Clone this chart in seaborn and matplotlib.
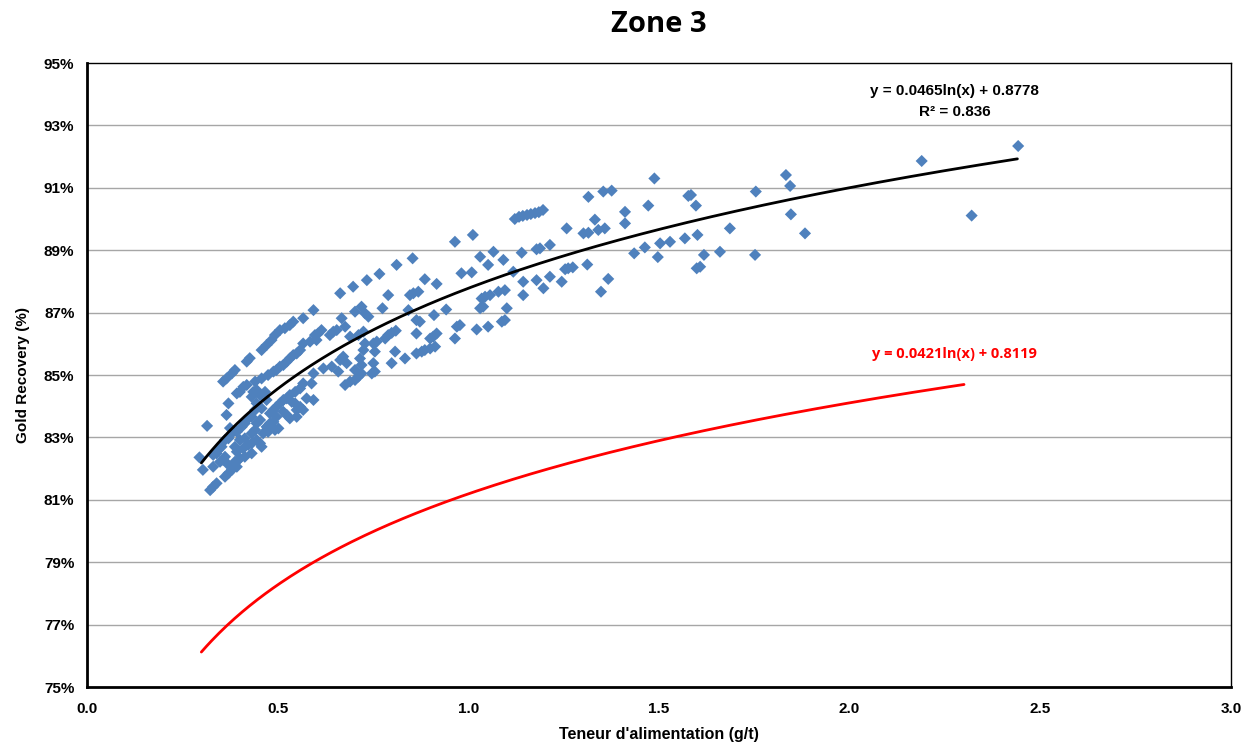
import numpy as np
import pandas as pd
import matplotlib
matplotlib.use("Agg")
import matplotlib.pyplot as plt
import seaborn as sns
from matplotlib.ticker import PercentFormatter, FormatStrFormatter

# Feed grade (g/t) and gold recovery (%) for each composite sample
grade = [
    0.295, 0.304, 0.315, 0.323, 0.331, 0.340, 0.331, 0.331, 0.340, 0.344,
    0.353, 0.349, 0.357, 0.362, 0.362, 0.371, 0.362, 0.371, 0.380, 0.393,
    0.371, 0.388, 0.397, 0.366, 0.371, 0.357, 0.366, 0.380, 0.388, 0.393,
    0.401, 0.380, 0.393, 0.401, 0.388, 0.393, 0.375, 0.410, 0.419, 0.427,
    0.419, 0.436, 0.445, 0.441, 0.458, 0.475, 0.489, 0.458, 0.471, 0.484,
    0.432, 0.454, 0.467, 0.445, 0.471, 0.441, 0.458, 0.419, 0.432, 0.406,
    0.414, 0.445, 0.454, 0.471, 0.480, 0.432, 0.441, 0.462, 0.475, 0.414,
    0.445, 0.423, 0.432, 0.454, 0.458, 0.410, 0.414, 0.432, 0.401, 0.497,
    0.506, 0.515, 0.524, 0.532, 0.541, 0.550, 0.559, 0.493, 0.506, 0.519,
    0.532, 0.541, 0.567, 0.594, 0.532, 0.546, 0.559, 0.567, 0.524, 0.515,
    0.506, 0.497, 0.489, 0.480, 0.537, 0.546, 0.550, 0.559, 0.567, 0.515,
    0.524, 0.532, 0.497, 0.489, 0.484, 0.493, 0.502, 0.567, 0.585, 0.602,
    0.598, 0.606, 0.615, 0.637, 0.646, 0.655, 0.668, 0.677, 0.690, 0.712,
    0.725, 0.703, 0.720, 0.729, 0.738, 0.664, 0.698, 0.734, 0.589, 0.576,
    0.594, 0.620, 0.642, 0.664, 0.672, 0.681, 0.659, 0.716, 0.720, 0.725,
    0.729, 0.703, 0.690, 0.703, 0.712, 0.720, 0.677, 0.594, 0.550, 0.767,
    0.812, 0.854, 0.965, 1.012, 0.886, 0.917, 0.790, 0.847, 0.856, 0.869,
    0.775, 0.843, 0.942, 0.910, 0.864, 0.873, 0.864, 0.782, 0.790, 0.799,
    0.810, 0.917, 0.908, 0.900, 0.965, 0.970, 0.978, 0.760, 0.751, 0.808,
    0.799, 0.834, 0.864, 0.878, 0.886, 0.900, 0.913, 0.755, 0.751, 0.755,
    0.747, 0.982, 1.009, 1.022, 1.052, 1.088, 1.096, 1.031, 1.039, 1.101,
    1.035, 1.044, 1.057, 1.079, 1.096, 1.118, 1.144, 1.144, 1.179, 1.197,
    1.214, 1.245, 1.031, 1.052, 1.066, 1.092, 1.140, 1.179, 1.188, 1.214,
    1.258, 1.122, 1.133, 1.143, 1.154, 1.164, 1.175, 1.185, 1.196, 1.254,
    1.262, 1.274, 1.302, 1.315, 1.341, 1.358, 1.332, 1.315, 1.354, 1.376,
    1.312, 1.367, 1.348, 1.411, 1.411, 1.435, 1.463, 1.472, 1.488, 1.497,
    1.503, 1.529, 1.568, 1.577, 1.584, 1.597, 1.601, 1.599, 1.608, 1.618,
    1.660, 1.686, 1.752, 1.754, 1.833, 1.844, 1.846, 1.883, 2.189, 2.320,
    2.442,
]
recovery = [
    82.36, 81.96, 83.37, 81.31, 81.42, 81.53, 82.06, 82.44, 82.49, 82.60,
    82.70, 82.22, 82.28, 82.38, 82.92, 82.97, 81.74, 81.85, 81.96, 82.06,
    82.12, 82.22, 82.28, 83.72, 84.09, 84.79, 84.89, 85.05, 85.16, 84.41,
    84.46, 83.13, 83.18, 82.92, 82.70, 82.54, 83.30, 84.62, 84.68, 85.54,
    85.43, 84.46, 84.52, 84.79, 84.89, 85.00, 85.11, 85.80, 85.96, 86.12,
    84.30, 84.36, 84.46, 84.09, 84.20, 83.88, 83.93, 83.56, 83.66, 83.34,
    83.45, 83.45, 83.56, 83.34, 83.45, 83.13, 83.24, 83.13, 83.18, 82.97,
    82.92, 82.76, 82.81, 82.81, 82.70, 82.65, 82.38, 82.49, 82.33, 85.16,
    85.27, 85.32, 85.43, 85.53, 85.64, 85.69, 85.80, 86.28, 86.44, 86.50,
    86.60, 86.71, 86.82, 87.08, 84.36, 84.46, 84.57, 84.73, 84.25, 84.20,
    84.09, 83.98, 83.88, 83.77, 84.14, 84.09, 83.88, 83.98, 83.88, 83.82,
    83.72, 83.61, 83.66, 83.50, 83.34, 83.24, 83.29, 86.01, 86.07, 86.12,
    86.28, 86.33, 86.44, 86.28, 86.39, 86.44, 86.82, 86.55, 86.23, 86.28,
    86.39, 87.03, 87.19, 86.98, 86.87, 87.62, 87.83, 88.04, 84.73, 84.25,
    84.20, 85.21, 85.27, 85.48, 85.59, 85.38, 85.11, 85.53, 85.32, 85.80,
    86.01, 85.16, 84.79, 84.84, 84.95, 85.05, 84.68, 85.05, 83.66, 88.24,
    88.53, 88.74, 89.27, 89.49, 88.07, 87.92, 87.56, 87.56, 87.62, 87.67,
    87.14, 87.08, 87.10, 86.92, 86.76, 86.71, 86.33, 86.17, 86.28, 86.35,
    86.42, 86.33, 86.23, 86.17, 86.17, 86.55, 86.60, 86.07, 86.01, 85.75,
    85.38, 85.53, 85.69, 85.75, 85.80, 85.85, 85.91, 85.75, 85.38, 85.11,
    85.05, 88.26, 88.29, 86.46, 86.55, 86.71, 86.76, 87.14, 87.19, 87.14,
    87.45, 87.51, 87.56, 87.67, 87.72, 88.31, 87.56, 87.99, 88.04, 87.78,
    88.15, 87.99, 88.79, 88.53, 88.95, 88.69, 88.92, 89.03, 89.06, 89.17,
    89.70, 90.00, 90.07, 90.10, 90.13, 90.16, 90.19, 90.22, 90.29, 88.39,
    88.42, 88.45, 89.54, 89.56, 89.65, 89.70, 89.98, 90.71, 90.88, 90.91,
    88.54, 88.08, 87.67, 90.23, 89.86, 88.90, 89.09, 90.43, 91.30, 88.78,
    89.22, 89.27, 89.38, 90.74, 90.77, 90.43, 89.49, 88.42, 88.47, 88.85,
    88.95, 89.70, 88.85, 90.88, 91.41, 91.06, 90.15, 89.54, 91.86, 90.11,
    92.34,
]

# Logarithmic trend lines: recovery = a*ln(grade) + b  (as fractions)
fit_coef = [0.0465, 0.8778]
fit_range = [0.30, 2.44]
fit_r2 = 0.836
ref_coef = [0.0421, 0.8119]
ref_range = [0.30, 2.30]

x_ticks = [0.0, 0.5, 1.0, 1.5, 2.0, 2.5, 3.0]
y_ticks = [75, 77, 79, 81, 83, 85, 87, 89, 91, 93, 95]

sns.set_theme(style="white")
plt.rcParams["font.family"] = ["Liberation Sans", "DejaVu Sans"]
plt.rcParams.update({
    "text.color": "black",
    "axes.labelcolor": "black",
    "xtick.color": "black",
    "ytick.color": "black",
})

fig = plt.figure(figsize=(12.53, 7.44), dpi=100)
ax = fig.add_axes([0.0694, 0.0766, 0.9130, 0.8387])

# horizontal gridlines
for yv in y_ticks[1:-1]:
    ax.axhline(yv, color="#A6A6A6", lw=1.0, zorder=0)

samples = pd.DataFrame({"grade": grade, "recovery": recovery})
sns.scatterplot(data=samples, x="grade", y="recovery", marker="D", s=38,
                color="#4F81BD", edgecolor="none", linewidth=0, ax=ax, zorder=3)

def log_curve(coef, rng):
    xs = np.linspace(rng[0], rng[1], 300)
    return pd.DataFrame({"grade": xs, "recovery": 100 * (coef[0] * np.log(xs) + coef[1])})

sns.lineplot(data=log_curve(fit_coef, fit_range), x="grade", y="recovery",
             color="black", lw=2, ax=ax, zorder=4, sort=False)
sns.lineplot(data=log_curve(ref_coef, ref_range), x="grade", y="recovery",
             color="#FF0000", lw=2, ax=ax, zorder=4, sort=False)

ax.set_xlim(0, 3)
ax.set_ylim(75, 95)
ax.set_xticks(x_ticks)
ax.set_yticks(y_ticks)
ax.xaxis.set_major_formatter(FormatStrFormatter("%.1f"))
ax.yaxis.set_major_formatter(PercentFormatter(xmax=100, decimals=0))
ax.tick_params(axis="both", which="major", direction="out", length=5, width=1,
               color="black", labelcolor="black", labelsize=11, pad=4)
ax.tick_params(axis="x", pad=6)
for lab in ax.get_xticklabels() + ax.get_yticklabels():
    lab.set_fontweight("bold")

for side, lw in [("left", 2), ("bottom", 2), ("top", 1), ("right", 1)]:
    ax.spines[side].set_visible(True)
    ax.spines[side].set_color("black")
    ax.spines[side].set_linewidth(lw)

ax.set_xlabel("Teneur d'alimentation (g/t)", fontsize=11.5, fontweight="bold",
              labelpad=8, color="black")
ax.set_ylabel("Gold Recovery (%)", fontsize=11, fontweight="bold", labelpad=10,
              color="black")
ax.set_title("Zone 3", fontsize=21, fontweight="bold", color="black",
             family=["Open Sans", "DejaVu Sans"], pad=22)

ax.text(2.276, 94.10, f"y = {fit_coef[0]}ln(x) + {fit_coef[1]}", ha="center", va="center",
        fontsize=11, fontweight="bold", color="black")
ax.text(2.276, 93.43, f"R² = {fit_r2}", ha="center", va="center",
        fontsize=11, fontweight="bold", color="black")
ax.text(2.276, 85.67, f"y = {ref_coef[0]}ln(x) + {ref_coef[1]}", ha="center", va="center",
        fontsize=10.5, fontweight="bold", color="#FF0000", family=["Open Sans", "DejaVu Sans"])

fig.savefig("out.png", dpi=100)
